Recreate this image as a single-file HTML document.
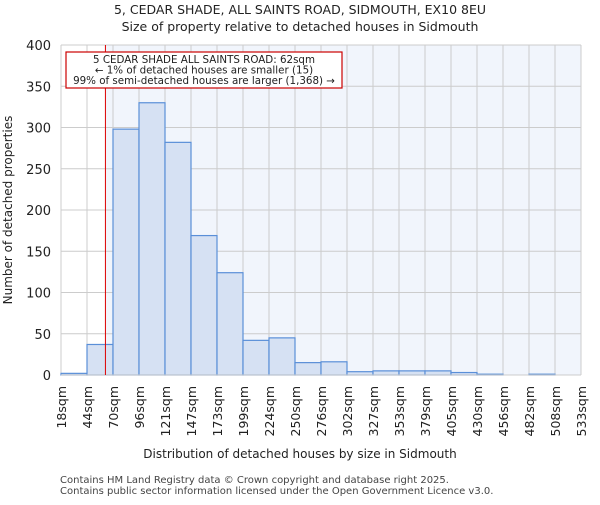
<!DOCTYPE html>
<html><head><meta charset="utf-8"><style>body{margin:0;background:#fff}svg{font-family:"DejaVu Sans","Liberation Sans",sans-serif}</style></head>
<body>
<svg id="c" width="600" height="500" xmlns="http://www.w3.org/2000/svg">
<text x="300" y="14" text-anchor="middle" font-size="12.5" fill="#222">5, CEDAR SHADE, ALL SAINTS ROAD, SIDMOUTH, EX10 8EU</text>
<text x="300" y="31" text-anchor="middle" font-size="12.5" fill="#222">Size of property relative to detached houses in Sidmouth</text>
<g id="plot"></g>
<text x="300" y="458" text-anchor="middle" font-size="12" fill="#222">Distribution of detached houses by size in Sidmouth</text>
<text transform="translate(12,210) rotate(-90)" text-anchor="middle" font-size="12" fill="#222">Number of detached properties</text>
<text x="60" y="483" font-size="10" fill="#444">Contains HM Land Registry data © Crown copyright and database right 2025.</text>
<text x="60" y="494" font-size="10" fill="#444">Contains public sector information licensed under the Open Government Licence v3.0.</text>
</svg>
<script>
const binLabels=["18sqm","44sqm","70sqm","96sqm","121sqm","147sqm","173sqm","199sqm","224sqm","250sqm","276sqm","302sqm","327sqm","353sqm","379sqm","405sqm","430sqm","456sqm","482sqm","508sqm","533sqm"];
const counts=[2,37,298,330,282,169,124,42,45,15,16,4,5,5,5,3,1,0,1,0];
const yTicks=[0,50,100,150,200,250,300,350,400];
const binStart=18, binEnd=533, propertySize=62;
const X0=61,X1=581,Y0=375,Y1=45,YMAX=400;
const nb=counts.length;
const bw=(X1-X0)/nb;
const xs=v=>X0+(v-binStart)/(binEnd-binStart)*(X1-X0);
const ys=v=>Y0-v/YMAX*(Y0-Y1);
const g=document.getElementById('plot');
const NS="http://www.w3.org/2000/svg";
function mk(t,a){const e=document.createElementNS(NS,t);for(const k in a)e.setAttribute(k,a[k]);g.appendChild(e);return e;}
const px=xs(propertySize);
let bg=mk('rect',{x:X0,y:Y1,width:X1-X0,height:Y0-Y1,fill:'#ffffff'});


let hl=mk('rect',{x:px,y:Y1,width:X1-px,height:Y0-Y1,fill:'#f1f5fc'});


for(let i=0;i<=nb;i++){const x=X0+i*bw;const l=mk('line',{x1:x,x2:x,y1:Y1,y2:Y0,stroke:'#cccccc','stroke-width':1});

}
yTicks.forEach(t=>{const y=ys(t);const l=mk('line',{x1:X0,x2:X1,y1:y,y2:y,stroke:'#cccccc','stroke-width':1});


const tx=mk('text',{x:X0-10,y:y+5,'text-anchor':'end','font-size':13,fill:'#222'});tx.textContent=t;

});
counts.forEach((c,i)=>{const x=X0+i*bw;const y=ys(c);const r=mk('rect',{x:x,y:y,width:bw,height:Y0-y,fill:'#d6e1f3',stroke:'#5a8fd8','stroke-width':1.2});

});
binLabels.forEach((b,i)=>{const x=X0+i*bw;const t=mk('text',{transform:`translate(${x+5},386) rotate(-90)`,'text-anchor':'end','font-size':12.5,fill:'#222'});t.textContent=b;

});
const ax=mk('line',{x1:X0,x2:X1,y1:Y0,y2:Y0,stroke:'#ccc'});


const rl=mk('line',{x1:px,x2:px,y1:Y1,y2:Y0,stroke:'#dd0000','stroke-width':1});


const box=mk('rect',{x:66,y:52,width:276,height:36,fill:'#fff',stroke:'#cc0000','stroke-width':1.2});


["5 CEDAR SHADE ALL SAINTS ROAD: 62sqm","← 1% of detached houses are smaller (15)","99% of semi-detached houses are larger (1,368) →"].forEach((s,i)=>{
const t=mk('text',{x:204,y:63+i*10.5,'text-anchor':'middle','font-size':10.3,fill:'#222'});t.textContent=s;

});
</script>
</body></html>
